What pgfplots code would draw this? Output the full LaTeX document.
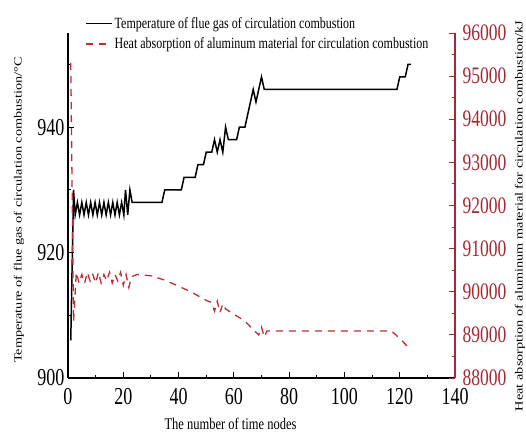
\documentclass[border=0pt]{standalone}
\usepackage{pgfplots}
\pgfplotsset{compat=1.18}
\usepackage{fontspec}
\setmainfont{Liberation Serif}
\usepackage{graphicx}
\definecolor{redline}{RGB}{190,45,55}
\definecolor{redaxis}{RGB}{165,40,50}
\newcommand{\tl}[1]{\scalebox{1}[1.35]{#1}}
\begin{document}
\begin{tikzpicture}[x=1pt,y=1pt]
\path[use as bounding box] (-68,-59) rectangle (458,378);
\begin{axis}[
  at={(0,0)}, anchor=south west,
  scale only axis, width=387pt, height=345pt,
  xmin=0, xmax=140, ymin=900, ymax=955,
  axis x line*=bottom, axis y line*=left,
  axis line style={-, line width=1.3pt},
  xtick={0,20,...,140}, minor xtick={10,30,...,130},
  ytick={900,920,940}, minor ytick={910,930,950},
  tick align=inside,
  major tick length=6pt, minor tick length=3.5pt,
  every tick/.style={black, line width=1pt},
  /pgf/number format/assume math mode=true,
  tick label style={font=\fontsize{18}{18}\selectfont},
  xticklabel style={yshift=-7pt},
  xticklabel={\tl{\pgfmathprintnumber{\tick}}},
  yticklabel={\tl{\pgfmathprintnumber{\tick}}},
  xlabel={\scalebox{1}[1.3]{The number of time nodes}},
  xlabel style={font=\fontsize{12.5}{12.5}\selectfont, at={(axis description cs:0.42,-0.133)}, anchor=center},
  ylabel={\scalebox{1.3}[1]{Temperature of flue gas of circulation combustion/°C}},
  ylabel style={font=\fontsize{11}{11}\selectfont, at={(axis description cs:-0.127,0.487)}, anchor=center},
  legend style={at={(rel axis cs:0.044,1.052)}, anchor=north west, draw=none, fill=none,
    font=\fontsize{12}{12}\selectfont, row sep=4pt, inner sep=0pt},
  legend cell align=left,
  legend image code/.code={\draw[#1] (0pt,0pt) -- (26pt,0pt);},
]
\addplot[black, line width=1.5pt] coordinates {
(1,906) (2,930) (2.6,926) (3.4,928) (4.2,926) (5,928) (5.8,926) (6.6,928) (7.4,926)
(8.2,928) (9,926) (9.8,928) (10.6,926) (11.4,928) (12.2,926) (13,928) (13.8,926)
(14.6,928) (15.4,926) (16.2,928) (17,926) (17.8,928) (18.6,926) (19.4,928) (20.2,926)
(20.8,930) (21.6,926) (22.4,930) (23.2,928) (34,928) (35,930) (41,930) (42,932) (46,932)
(47,934) (49,934) (50,936) (52,936) (53,938) (54,936) (55,938) (56,936) (57,940)
(58,938) (61,938) (62,940) (64,940) (65,942) (66,944) (67,946) (68,944) (70,948)
(71,946) (119,946) (120,948) (122,948) (123,950) (124,950)
};
\addlegendentry{\scalebox{1}[1.3]{Temperature of flue gas of circulation combustion}}
\addlegendimage{redline, line width=1.3pt, dash pattern=on 7pt off 6pt}
\addlegendentry{\scalebox{1}[1.3]{Heat absorption of aluminum material for circulation combustion}}
\end{axis}
\begin{axis}[
  at={(0,0)}, anchor=south west,
  scale only axis, width=387pt, height=345pt,
  xmin=0, xmax=140, ymin=88000, ymax=96000,
  axis x line=none, axis y line*=right,
  axis line style={-, line width=1.2pt, redaxis},
  ytick={88000,89000,...,96000}, minor ytick={88500,89500,...,95500},
  scaled y ticks=false,
  tick align=inside,
  major tick length=6pt, minor tick length=3.5pt,
  every tick/.style={redaxis, line width=1pt},
  /pgf/number format/assume math mode=true,
  /pgf/number format/set thousands separator={},
  tick label style={font=\fontsize{17.5}{17.5}\selectfont, text=redaxis},
  yticklabel style={xshift=4pt},
  yticklabel={\tl{\pgfmathprintnumber{\tick}}},
  ylabel={\scalebox{1.3}[1]{Heat absorption of aluminum material for circulation combustion/kJ}},
  ylabel style={font=\fontsize{11}{11}\selectfont, at={(axis description cs:1.168,0.47)}, anchor=center},
]
\addplot[redline, line width=1.3pt, dash pattern=on 7pt off 6pt] coordinates {
(1,95300) (2,89300) (3,90450) (4,90200) (5,90400) (6,90200) (7,90450) (8,90250)
(9,90400) (10,90200) (11,90450) (12,90200) (13,90400) (14,90250) (15,90450)
(16,90200) (17,90400) (18,90250) (19,90450) (20,90150) (21,90400) (22,90100)
(23,90350) (25,90400) (30,90370) (35,90270) (40,90130) (45,89980) (50,89800)
(52,89750) (53,89550) (54,89780) (55,89520) (56,89720) (57,89600) (60,89480)
(64,89320) (67,89120) (69,89000) (70,89180) (71,88950) (72,89090) (117,89090)
(120,88920) (124,88650)
};
\end{axis}
\end{tikzpicture}
\end{document}
